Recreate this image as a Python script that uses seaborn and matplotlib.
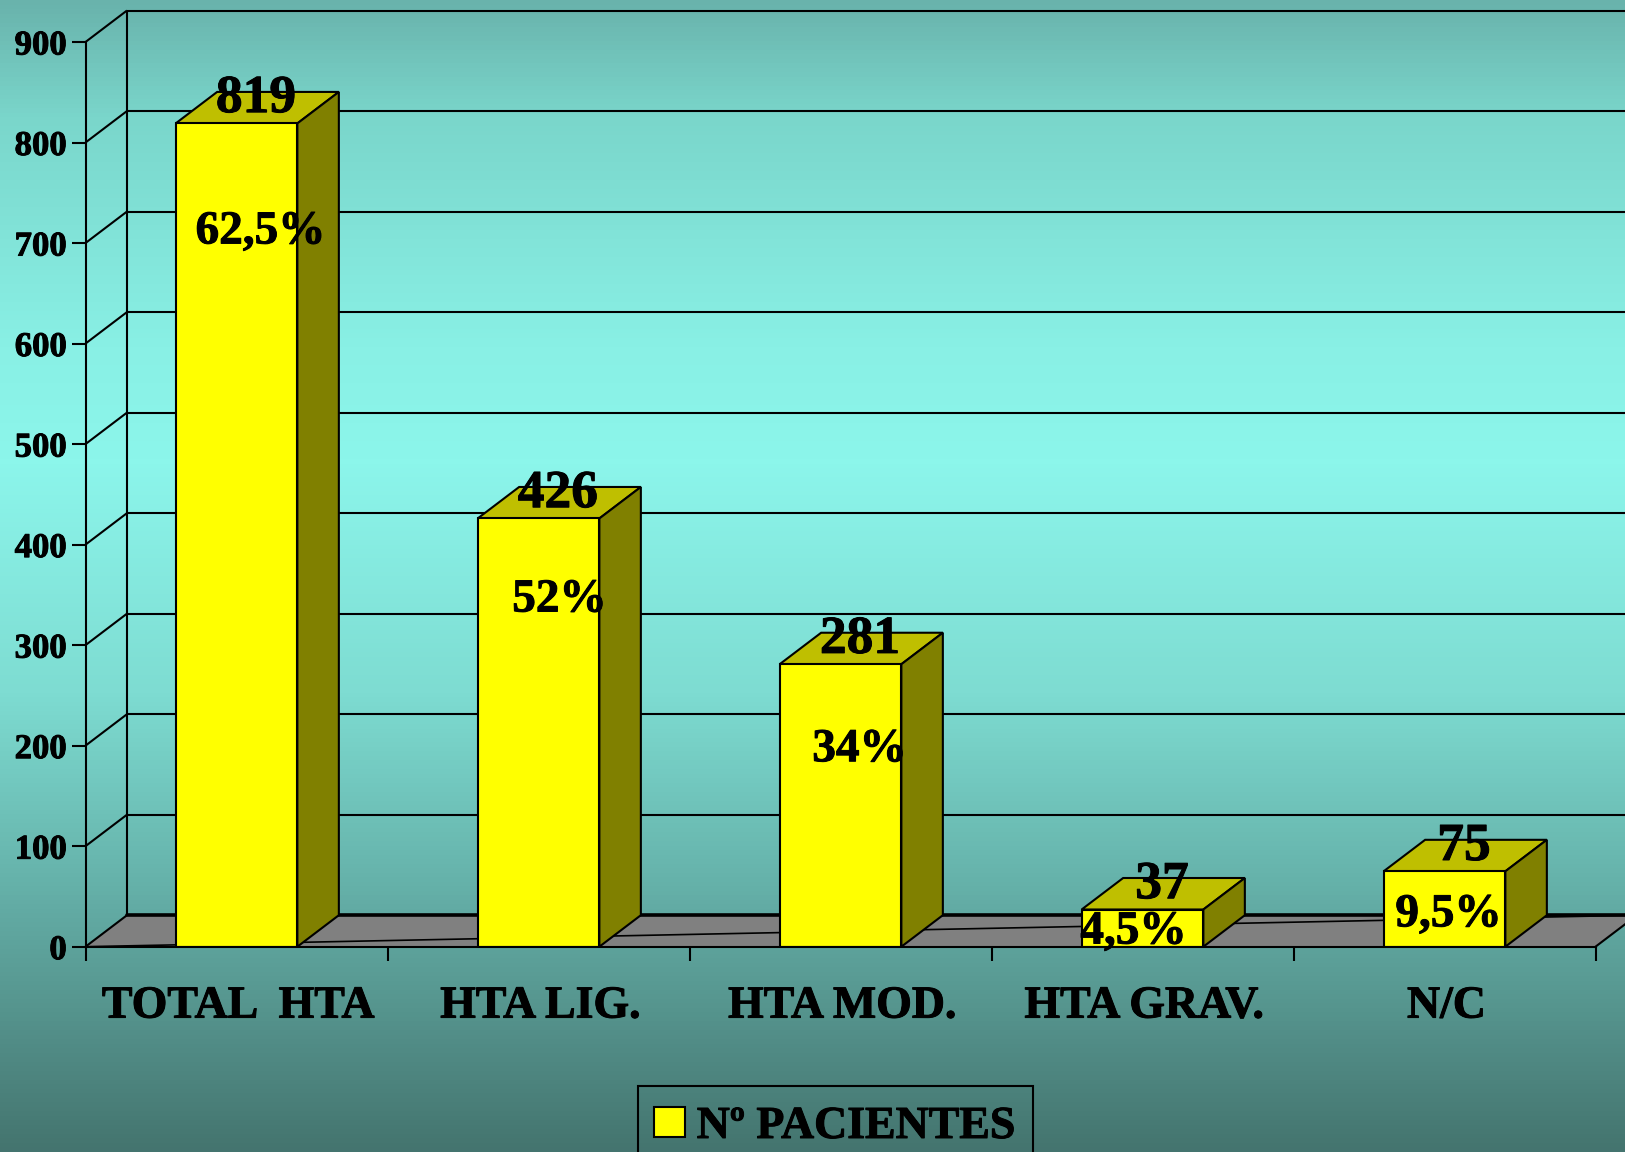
import numpy as np
import pandas as pd
import matplotlib
matplotlib.use("Agg")
import matplotlib.pyplot as plt
import matplotlib.patheffects as pe
from matplotlib.colors import LinearSegmentedColormap
from matplotlib.patches import Polygon, Rectangle
from matplotlib.transforms import ScaledTranslation
import seaborn as sns

categories = ["TOTAL  HTA", "HTA LIG.", "HTA MOD.", "HTA GRAV.", "N/C"]
patients = [819, 426, 281, 37, 75]
percent_labels = ["62,5%", "52%", "34%", "4,5%", "9,5%"]
series_name = "Nº PACIENTES"
y_ticks = [0, 100, 200, 300, 400, 500, 600, 700, 800, 900]

W, H = 1625, 1152
sns.set_theme(style="white")
plt.rcParams["font.family"] = ["Liberation Serif", "DejaVu Serif"]
plt.rcParams["font.weight"] = "bold"
HEAVY = [pe.withStroke(linewidth=0.7, foreground="black")]

fig = plt.figure(figsize=(W / 100, H / 100), dpi=100)

# gradient background
bg = fig.add_axes([0, 0, 1, 1], zorder=-5)
cmap = LinearSegmentedColormap.from_list(
    "bg", [(0, "#69B3AC"), (0.1, "#7AD6CB"), (0.3, "#89F0E5"), (0.4, "#8CF6EB"),
           (0.6, "#7EDCD2"), (0.75, "#68B6AE"), (1, "#44746F")])
bg.imshow(np.linspace(0, 1, 1152)[:, None], aspect="auto", cmap=cmap, vmin=0, vmax=1)
bg.axis("off")

# front plane of the 3D chart, in pixels of the picture
L, R, TOP, BOT = 85.5, 1595.5, 42.0, 946.7
ax = fig.add_axes([L / W, 1 - BOT / H, (R - L) / W, (BOT - TOP) / H])
ax.patch.set_alpha(0)

df = pd.DataFrame({"category": categories, "value": patients})
sns.barplot(data=df, x="category", y="value", color="#FFFF00", saturation=1,
            width=0.403, edgecolor="black", linewidth=1.5, ax=ax, zorder=5)
ax.set_xlim(-0.5, len(categories) - 0.5)
ax.set_ylim(0, 900)
ax.set_xlabel("")
ax.set_ylabel("")

# depth of the 3D box, in data units
dx = 41.5 / ((R - L) / len(categories))
dy = 31.5 / ((BOT - TOP) / 900)
x0, x1 = ax.get_xlim()
EDGE = dict(edgecolor="black", linewidth=1.5, clip_on=False)
LINE = dict(color="black", linewidth=1.5, clip_on=False, solid_capstyle="butt")

# floor
ax.add_patch(Polygon([(x0, 0), (x1, 0), (x1 + dx, dy), (x0 + dx, dy)],
                     facecolor="#808080", edgecolor="none", clip_on=False, zorder=1))
ax.plot([x0 + dx, x1 + dx], [dy, dy], color="black", linewidth=2.6, clip_on=False, zorder=1.5)
ax.plot([x1, x1 + dx], [0, dy], zorder=1.5, **LINE)
ax.plot([x0, x1 + dx], [0, dy], color="black", linewidth=1.2, clip_on=False, zorder=1.5)

# walls: grid lines and diagonals
for v in y_ticks:
    if v > 0:
        ax.plot([x0 + dx, x1 + dx], [v + dy, v + dy], zorder=1, **LINE)
    ax.plot([x0, x0 + dx], [v, v + dy], zorder=1, **LINE)
ax.plot([x0 + dx, x0 + dx], [dy, 900 + dy], zorder=1, **LINE)

# 3D faces of every bar
for bar in ax.patches[:]:
    if not isinstance(bar, Rectangle):
        continue
    bx0, bx1, h = bar.get_x(), bar.get_x() + bar.get_width(), bar.get_height()
    ax.add_patch(Polygon([(bx0, h), (bx1, h), (bx1 + dx, h + dy), (bx0 + dx, h + dy)],
                         facecolor="#BFBF00", zorder=4, **EDGE))
    ax.add_patch(Polygon([(bx1, 0), (bx1 + dx, dy), (bx1 + dx, h + dy), (bx1, h)],
                         facecolor="#808000", zorder=4, **EDGE))

# axes
sns.despine(ax=ax, top=True, right=True)
for s in ("left", "bottom"):
    ax.spines[s].set_linewidth(1.5)
    ax.spines[s].set_color("black")
    ax.spines[s].set_zorder(6)
ax.set_yticks(y_ticks)
ax.tick_params(axis="y", length=10, width=1.5, color="black", pad=3.5, left=True,
               labelsize=25, labelcolor="black")
ax.set_xticks(range(len(categories)), categories)
ax.set_xticks(np.arange(len(categories) + 1) - 0.5, minor=True)
ax.tick_params(axis="x", which="major", length=0, pad=28, labelsize=33, labelcolor="black")
ax.tick_params(axis="x", which="minor", length=10, width=1.5, color="black", bottom=True)
for lab in ax.get_xticklabels() + ax.get_yticklabels():
    lab.set_fontweight("bold")
    lab.set_path_effects(HEAVY)
shift = ScaledTranslation(2 / 100, 0, fig.dpi_scale_trans)
for lab in ax.get_xticklabels():
    lab.set_transform(lab.get_transform() + shift)

# value labels above the bars
for i, v in enumerate(patients):
    ax.annotate(str(v), (i, v), xytext=(14, 17.5), textcoords="offset points",
                ha="center", va="center", fontsize=38.5, fontweight="bold",
                color="black", zorder=8, annotation_clip=False, path_effects=HEAVY)

# percentage labels, placed by hand on the bars (offset in px from bar centre and top)
pct_dx = [24, 21, 19, -9, 4]
pct_dy = [109, 82, 86, 23, 44]
for i, (txt, v) in enumerate(zip(percent_labels, patients)):
    ax.annotate(txt, (i, v), xytext=(pct_dx[i] * 0.72, -pct_dy[i] * 0.72),
                textcoords="offset points", ha="center", va="center", fontsize=34,
                fontweight="bold", color="black", zorder=8, annotation_clip=False,
                path_effects=HEAVY)

# legend
handle = Rectangle((0, 0), 1, 1, facecolor="#FFFF00", edgecolor="black", linewidth=1.5)
fig.add_artist(Rectangle((637.5 / W, 1 - 1200 / H), (1033 - 637.5) / W, (1200 - 1086) / H,
                         transform=fig.transFigure, facecolor="none", edgecolor="black",
                         linewidth=1.5))
leg = fig.legend([handle], [series_name], loc="center left",
                 bbox_to_anchor=(638.5 / W, 1 - 1127 / H), bbox_transform=fig.transFigure,
                 frameon=False, labelcolor="black",
                 prop={"family": "Liberation Serif", "weight": "bold", "size": 33},
                 handlelength=0.67, handleheight=0.65, handletextpad=0.26, borderpad=0.34,
                 borderaxespad=0)
for t in leg.get_texts():
    t.set_path_effects(HEAVY)

fig.savefig("out.png", dpi=100)
